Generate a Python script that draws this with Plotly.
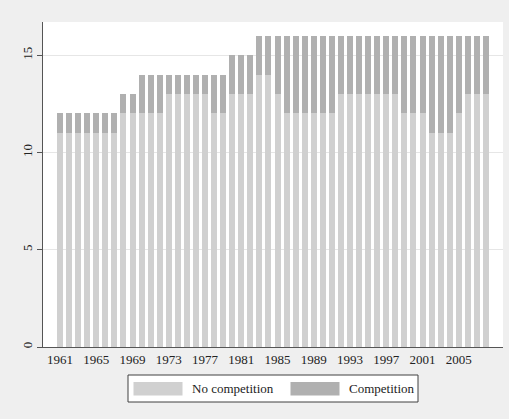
import plotly.graph_objects as go

years = list(range(1961, 2009))
no_competition = ([11] * 7 + [12] * 5 + [13] * 5 + [12] * 2 + [13] * 3 + [14] * 2 +
                  [13] + [12] * 6 + [13] * 7 + [12] * 3 + [11] * 3 + [12] + [13] * 3)
total = [12] * 7 + [13] * 2 + [14] * 10 + [15] * 3 + [16] * 26
competition = [t - n for t, n in zip(total, no_competition)]
tick_years = list(range(1961, 2006, 4))
y_ticks = [0, 5, 10, 15]

C_NO = "#d0d0d0"
C_YES = "#b0b0b0"
FONT = "Liberation Serif, Times New Roman, serif"

fig = go.Figure()
fig.add_trace(go.Bar(x=years, y=no_competition, name="No competition",
                     marker=dict(color=C_NO, line=dict(width=0)), width=0.66,
                     hoverinfo="skip"))
fig.add_trace(go.Bar(x=years, y=competition, name="Competition",
                     marker=dict(color=C_YES, line=dict(width=0)), width=0.66,
                     hoverinfo="skip"))

fig.update_layout(
    barmode="stack",
    width=509, height=419,
    margin=dict(l=43, r=6, t=22, b=72),
    paper_bgcolor="#efefef",
    plot_bgcolor="white",
    showlegend=False,
    font=dict(family=FONT, size=12, color="#222"),
    xaxis=dict(range=[1959.12, 2009.88], tickvals=tick_years, ticktext=[str(y) for y in tick_years],
               showgrid=False, showline=True, linecolor="#555", linewidth=1,
               ticks="", zeroline=False, tickfont=dict(size=13, family=FONT)),
    yaxis=dict(range=[0, 16.7], tickvals=y_ticks, showgrid=True, gridcolor="#e6e6e6",
               gridwidth=1, showline=True, linecolor="#555", linewidth=1,
               ticks="outside", ticklen=5, tickcolor="#555", tickangle=-90,
               zeroline=False, tickfont=dict(size=13, family=FONT)),
)

# custom legend box (Stata style)
def px_x(p):
    return (p - 43) / 460.0

def px_y(p):
    return (347 - p) / 325.0

fig.add_shape(type="rect", xref="paper", yref="paper",
              x0=px_x(128), x1=px_x(418), y0=px_y(375), y1=px_y(402),
              fillcolor="white", line=dict(color="#404040", width=1))
for (x0, x1, col, label, tx) in [(133.5, 182.5, C_NO, "No competition", 190),
                                  (290.5, 339.5, C_YES, "Competition", 347)]:
    fig.add_shape(type="rect", xref="paper", yref="paper",
                  x0=px_x(x0), x1=px_x(x1), y0=px_y(382), y1=px_y(395.5),
                  fillcolor=col, line=dict(width=0))
    fig.add_annotation(xref="paper", yref="paper", x=px_x(tx), y=px_y(388.5),
                       text=label, showarrow=False, xanchor="left", yanchor="middle",
                       font=dict(size=13, family=FONT, color="#222"))

fig.write_html("out.html", config={"displayModeBar": False},
               post_script="document.body.style.margin='0px';document.body.style.overflow='hidden';")
